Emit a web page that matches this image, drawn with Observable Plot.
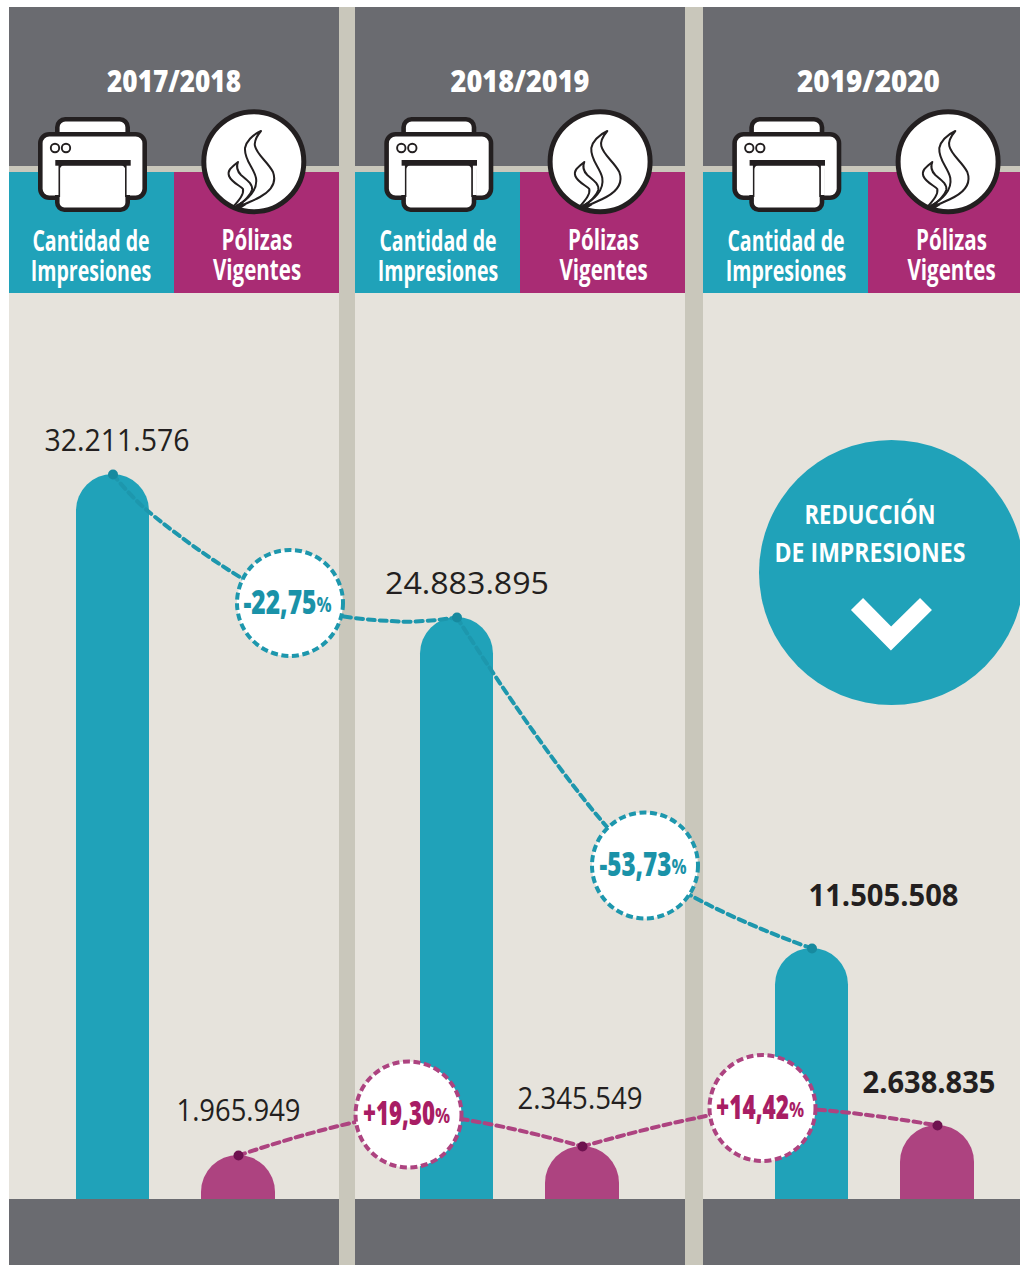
<!DOCTYPE html>
<html lang="es">
<head>
<meta charset="utf-8">
<script src="https://cdn.jsdelivr.net/npm/d3@7"></script>
<script src="https://cdn.jsdelivr.net/npm/@observablehq/plot@0.6"></script>
<style>
html,body{margin:0;padding:0;background:#fff;overflow:hidden}
svg{display:block}
</style>
</head>
<body>
<div id="chart"></div>
<script>
// ---- values
const periods = ["2017/2018", "2018/2019", "2019/2020"];
const impresiones = [32211576, 24883895, 11505508];
const polizas = [1965949, 2345549, 2638835];
const impresionesLabels = ["32.211.576", "24.883.895", "11.505.508"];
const polizasLabels = ["1.965.949", "2.345.549", "2.638.835"];
const impresionesChange = ["-22,75", "-53,73"];
const polizasChange = ["+19,30", "+14,42"];
const columnTitles = ["Cantidad de\nImpresiones", "Pólizas\nVigentes"];
const calloutLines = ["REDUCCIÓN", "DE IMPRESIONES"];
// level at which each change badge floats, in the units of its series
const impresionesBadgeLevel = [25630000, 14860000];
const polizasBadgeLevel = [3190000, 3515000];
const impresionesBends = [[0, 30310000], [0, 24720000]];

// ---- layout (pixels), separate from the values
const W = 1020, H = 1265;
const panels = [[9, 339], [355, 685], [703, 1020]];
const periodX = [173.5, 519.5, 868];
const periodW = [134, 139, 143];
const impresionesX = [112.5, 456.5, 811.5];
const polizasX = [238, 582, 937];
const impresionesTitleX = [90.5, 437.5, 785.5];
const polizasTitleX = [256.5, 603, 951];
const impresionesBadgeX = [289.5, 644.5];
const polizasBadgeX = [408, 762];
const impresionesChangeW = [73, 72];
const polizasChangeW = [72, 73];
const impresionesBendX = [148, 400];
const impresionesLabelX = [116.5, 466.5, 883];
const polizasLabelX = [238, 579.5, 928.5];
const impresionesLabelDy = [-33, -33, -52];
const polizasLabelDy = [-44, -47, -42];
const impresionesLabelW = [145, 164, 150];
const polizasLabelW = [124, 125, 133];
const calloutW = [131, 191];
const calloutDy = [515, 552.5];
const iconOffset = [0, 346.3, 694.3];
const baseY = 1199;
const barHalf = 36.5, polHalf = 37;

const TEAL = "#20a2b9", TEAL_LINE = "#1d97ad", TEAL_DOT = "#178a9f";
const MAG = "#ad4380", MAG_HEAD = "#a92c74", MAG_DOT = "#6e124f", MAG_TEXT = "#a81d64";
const GREY = "#6a6b70", STRIPE = "#c9c7bb", BODY = "#e6e3dc", INK = "#231f20";
const SANS = "'Open Sans',sans-serif";

const under = -4000000; // bars run on below the base band, which hides their lower corners
const rows = periods.map((p, i) => ({p, i}));

// ---- decorative pieces
function background() {
  const g = d3.create("svg:g");
  g.append("rect").attr("x", panels[0][1]).attr("y", 7).attr("width", W - panels[0][1]).attr("height", H - 7).attr("fill", STRIPE);
  panels.forEach(([a, b]) => {
    const w = b - a, mid = a + 165;
    g.append("rect").attr("x", a).attr("y", 7).attr("width", w).attr("height", 159).attr("fill", GREY);
    g.append("rect").attr("x", a).attr("y", 166).attr("width", w).attr("height", 6).attr("fill", STRIPE);
    g.append("rect").attr("x", a).attr("y", 172).attr("width", mid - a).attr("height", 121).attr("fill", TEAL);
    g.append("rect").attr("x", mid).attr("y", 172).attr("width", b - mid).attr("height", 121).attr("fill", MAG_HEAD);
    g.append("rect").attr("x", a).attr("y", 293).attr("width", w).attr("height", baseY - 293).attr("fill", BODY);
  });
  return g.node();
}
function baseBand() {
  const g = d3.create("svg:g");
  panels.forEach(([a, b]) => g.append("rect").attr("x", a).attr("y", baseY).attr("width", b - a).attr("height", H - baseY).attr("fill", GREY));
  return g.node();
}
function icons() {
  const g = d3.create("svg:g");
  iconOffset.forEach(dx => {
    const t = g.append("g").attr("transform", `translate(${dx},0)`);
    const box = (x, y, w, h, r, sw = 4.6) => t.append("rect").attr("x", x).attr("y", y).attr("width", w).attr("height", h).attr("rx", r)
      .attr("fill", "#fff").attr("stroke", INK).attr("stroke-width", sw);
    box(57.3, 119.3, 70.4, 30, 8);
    box(40.3, 134.3, 104.4, 63.4, 9);
    box(57.3, 163, 70.4, 46.7, 7);
    // the paper's sides are thin where it lies over the body
    t.append("rect").attr("x", 54.5).attr("y", 165).attr("width", 4.3).attr("height", 30).attr("fill", "#fff");
    t.append("rect").attr("x", 126.2).attr("y", 165).attr("width", 4.3).attr("height", 30).attr("fill", "#fff");
    t.append("rect").attr("x", 58.6).attr("y", 165).attr("width", 1.5).attr("height", 32).attr("fill", INK);
    t.append("rect").attr("x", 125).attr("y", 165).attr("width", 1.5).attr("height", 32).attr("fill", INK);
    t.append("rect").attr("x", 55.3).attr("y", 160).attr("width", 75.4).attr("height", 5.7).attr("fill", INK);
    [55, 66].forEach(cx => t.append("circle").attr("cx", cx).attr("cy", 148).attr("r", 4.2).attr("fill", "#fff").attr("stroke", INK).attr("stroke-width", 1.9));
    t.append("circle").attr("cx", 253.8).attr("cy", 161.7).attr("r", 50).attr("fill", "#fff").attr("stroke", INK).attr("stroke-width", 5);
    const flame = d => t.append("path").attr("d", d).attr("fill", "none").attr("stroke", INK).attr("stroke-width", 2).attr("stroke-linejoin", "round");
    flame("M236,206 C248,200 258,190 256,178 C254,168 244,160 245,148 C246,142 252,135 261,131 C256,137 254,142 255,146 C257,155 268,162 273,172 C277,183 271,191 260,197 C253,201 246,203 239,207");
    flame("M234,206 C240,199 244,194 243,189 C241,186 232,183 229,176 C227,170 232,167 238,162 C236,167 237,171 241,175 C247,180 253,184 252,190 C250,196 245,200 237,207");
    t.append("path").attr("d", "M233,208 L241,202 L246,205 L240,209 Z").attr("fill", INK);
  });
  return g.node();
}
function chevron() {
  return d3.create("svg:path").attr("d", "M857,604 L891,638.5 L926,604").attr("fill", "none")
    .attr("stroke", "#fff").attr("stroke-width", 17).attr("stroke-linejoin", "miter").node();
}

// ---- connectors: bar top → badge → next bar top
const conn = (vals, xs, levels, bx) => levels.flatMap((lv, i) => [
  {c: i, x: xs[i], y: vals[i]}, {c: i, x: bx[i], y: lv}, {c: i, x: xs[i + 1], y: vals[i + 1]}
]);
const impConn = [
  ...conn(impresiones, impresionesX, impresionesBadgeLevel, impresionesBadgeX),
  ...impresionesBends.map(([c, y], i) => ({c, x: impresionesBendX[i], y}))
].sort((a, b) => a.c - b.c || a.x - b.x);
const polConn = conn(polizas, polizasX, polizasBadgeLevel, polizasBadgeX);

// ---- horizontal squeeze of text: fonts on hand are wider than the reference's condensed face
const squeezes = [];
const squeeze = (cls, sx) => { squeezes.push({cls, sx}); return cls; };
const fit = (cls, w) => { squeezes.push({cls, w}); return cls; };

const badge = (levels, xs, labels, widths, stroke, fill, tag) => {
  const d = levels.map((lv, i) => ({lv, x: xs[i], t: labels[i]}));
  return [
    Plot.dot(d, {x: "x", y: "lv", r: 53, fill: "#fff", stroke, strokeWidth: 4, strokeDasharray: "7,3.6"}),
    Plot.text(d, {x: "x", y: "lv", text: "t", textAnchor: "end", dx: 26.5, dy: 0, fill, fontFamily: SANS, fontWeight: 800, fontSize: 33, className: fit("num" + tag, widths)}),
    Plot.text(d, {x: "x", y: "lv", text: () => "%", textAnchor: "start", dx: 26.5, dy: 2, fill, fontFamily: SANS, fontWeight: 700, fontSize: 21, className: squeeze("pct" + tag, 0.8)})
  ];
};

const valueLabels = (labels, xs, vals, dys, widths, tag) => labels.map((t, i) =>
  Plot.text([t], {
    x: () => xs[i], y: () => vals[i], dy: dys[i], text: d => d, fill: INK,
    fontFamily: SANS, fontSize: 31, fontWeight: i === 2 ? 700 : 400,
    className: fit(`${tag}${i}`, [widths[i]])
  }));

const chart = Plot.plot({
  width: W, height: H,
  margin: 0,
  style: {background: "transparent", overflow: "hidden"},
  x: {type: "linear", domain: [0, W], range: [0, W], axis: null},
  y: {
    type: "linear",
    domain: [under, 0, polizas[0], polizas[1], polizas[2], impresiones[2], impresiones[1], impresiones[0]],
    range: [1265, baseY, 1155, 1146, 1125, 948, 617, 474],
    axis: null
  },
  marks: [
    background,
    Plot.rect(rows, {x1: d => impresionesX[d.i] - barHalf, x2: d => impresionesX[d.i] + barHalf, y1: under, y2: d => impresiones[d.i], fill: TEAL, rx: barHalf}),
    Plot.rect(rows, {x1: d => polizasX[d.i] - polHalf, x2: d => polizasX[d.i] + polHalf, y1: under, y2: d => polizas[d.i], fill: MAG, rx: polHalf}),
    baseBand,
    // headers
    Plot.text(rows, {x: d => periodX[d.i], frameAnchor: "top", lineAnchor: "middle", dy: 81.5, text: "p", fill: "#fff", fontFamily: SANS, fontWeight: 800, fontSize: 30, className: fit("head", periodW)}),
    icons,
    Plot.text(rows, {x: d => impresionesTitleX[d.i], frameAnchor: "top", lineAnchor: "middle", dy: 256, text: () => columnTitles[0], lineHeight: 1.03, fill: "#fff", fontFamily: SANS, fontWeight: 700, fontSize: 29, className: squeeze("ti0", 0.675)}),
    Plot.text(rows, {x: d => polizasTitleX[d.i], frameAnchor: "top", lineAnchor: "middle", dy: 255, text: () => columnTitles[1], lineHeight: 1.03, fill: "#fff", fontFamily: SANS, fontWeight: 700, fontSize: 29, className: squeeze("ti1", 0.71)}),
    // connectors
    Plot.line(impConn, {x: "x", y: "y", z: "c", curve: "catmull-rom", stroke: TEAL_LINE, strokeWidth: 4, strokeDasharray: "7,5"}),
    Plot.line(polConn, {x: "x", y: "y", z: "c", curve: "catmull-rom", stroke: MAG, strokeWidth: 4, strokeDasharray: "7,5"}),
    Plot.dot(rows, {x: d => impresionesX[d.i], y: d => impresiones[d.i], r: 5, fill: TEAL_DOT}),
    Plot.dot(rows, {x: d => polizasX[d.i], y: d => polizas[d.i], r: 5, fill: MAG_DOT}),
    // badges
    ...badge(impresionesBadgeLevel, impresionesBadgeX, impresionesChange, impresionesChangeW, TEAL_LINE, "#1a92a8", "T"),
    ...badge(polizasBadgeLevel, polizasBadgeX, polizasChange, polizasChangeW, MAG, MAG_TEXT, "M"),
    // value labels
    ...valueLabels(impresionesLabels, impresionesLabelX, impresiones, impresionesLabelDy, impresionesLabelW, "vi"),
    ...valueLabels(polizasLabels, polizasLabelX, polizas, polizasLabelDy, polizasLabelW, "vp"),
    // callout
    Plot.dot([0], {x: () => 891, frameAnchor: "top", dy: 572, r: 132.5, fill: TEAL}),
    ...calloutLines.map((t, i) => Plot.text([t], {x: () => 869.5, frameAnchor: "top", lineAnchor: "middle", dy: calloutDy[i], text: d => d, fill: "#fff", fontFamily: SANS, fontWeight: 700, fontSize: 27, className: fit("co" + i, [calloutW[i]])})),
    chevron
  ]
});
document.getElementById("chart").append(chart);

// apply the squeezes now that the text can be measured
squeezes.forEach(({cls, sx, w}) => {
  chart.querySelectorAll(`.${cls} text`).forEach((el, i) => {
    const k = sx ?? w[i] / el.getComputedTextLength();
    const tr = el.getAttribute("transform") || "";
    el.setAttribute("transform", `${tr} scale(${k},1)`);
  });
});
</script>
</body>
</html>
